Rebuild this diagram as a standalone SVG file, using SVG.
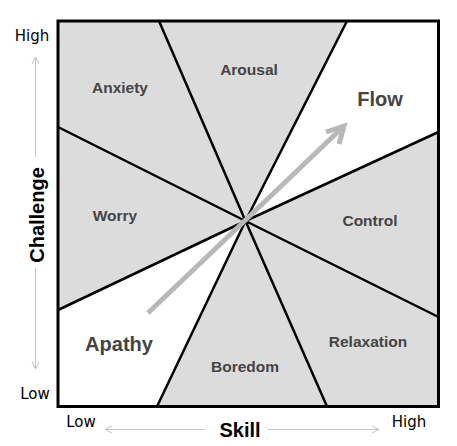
<svg xmlns="http://www.w3.org/2000/svg" width="457" height="446" viewBox="0 0 457 446">
<defs>
<style>
.g{fill:#dcdcdc;stroke:none}
.w{fill:#ffffff;stroke:none}
.lbl{font-family:"Liberation Sans",Arial,sans-serif;font-weight:bold;font-size:15.5px;fill:#444444;text-anchor:middle}
.big{font-size:20px}
.ax{font-family:"DejaVu Sans",Verdana,sans-serif;font-size:15px;fill:#000000;text-anchor:middle}
.axt{font-family:"Liberation Sans",Arial,sans-serif;font-weight:bold;font-size:20px;fill:#000000;text-anchor:middle}
.sep{stroke:#000000;stroke-width:2.5;fill:none}
.axl{stroke:#c4c4c4;stroke-width:1;fill:none}
</style>
</defs>
<rect width="457" height="446" fill="#ffffff"/>
<g id="anxiety"><polygon class="g" points="245.5,221 58,127 58,21 159,21"/><text class="lbl" x="120" y="93">Anxiety</text></g>
<g id="arousal"><polygon class="g" points="245.5,221 159,21 347,21"/><text class="lbl" x="249" y="75">Arousal</text></g>
<g id="flow"><polygon class="w" points="245.5,221 347,21 438.5,21 438.5,132"/><text class="lbl big" x="380" y="106">Flow</text></g>
<g id="control"><polygon class="g" points="245.5,221 438.5,132 438.5,317"/><text class="lbl" x="370" y="226">Control</text></g>
<g id="relaxation"><polygon class="g" points="245.5,221 438.5,317 438.5,406.5 327,406.5"/><text class="lbl" x="368" y="347">Relaxation</text></g>
<g id="boredom"><polygon class="g" points="245.5,221 327,406.5 157,406.5"/><text class="lbl" x="245" y="372">Boredom</text></g>
<g id="apathy"><polygon class="w" points="245.5,221 157,406.5 58,406.5 58,310"/><text class="lbl big" x="119" y="351">Apathy</text></g>
<g id="worry"><polygon class="g" points="245.5,221 58,310 58,127"/><text class="lbl" x="115" y="221">Worry</text></g>
<g id="connectors">
<path class="sep" d="M245.5,221 L58,127 M245.5,221 L159,21 M245.5,221 L347,21 M245.5,221 L438.5,132 M245.5,221 L438.5,317 M245.5,221 L327,406.5 M245.5,221 L157,406.5 M245.5,221 L58,310"/>
<path d="M148,313 L343,127" stroke="#b8b8b8" stroke-width="5" fill="none"/>
<polyline points="326,132 344,126 339,144" stroke="#b8b8b8" stroke-width="5" fill="none" stroke-linejoin="miter"/>
<path class="axl" d="M35.5,58 L35.5,157 M35.5,268 L35.5,368 M32,64 L35.5,57 L39,64 M32,362 L35.5,369 L39,362"/>
<path class="axl" d="M105,429.5 L205,429.5 M268,429.5 L379,429.5 M112,426 L105,429.5 L112,433 M372,426 L379,429.5 L372,433"/>
</g>
<rect x="58" y="21" width="380.5" height="385.5" fill="none" stroke="#000000" stroke-width="3"/>
<text class="ax" x="32" y="41">High</text>
<text class="ax" x="35" y="399">Low</text>
<text class="ax" x="81" y="427">Low</text>
<text class="ax" x="409" y="427">High</text>
<text class="axt" x="240" y="437">Skill</text>
<text class="axt" transform="translate(44,215) rotate(-90)">Challenge</text>
</svg>
